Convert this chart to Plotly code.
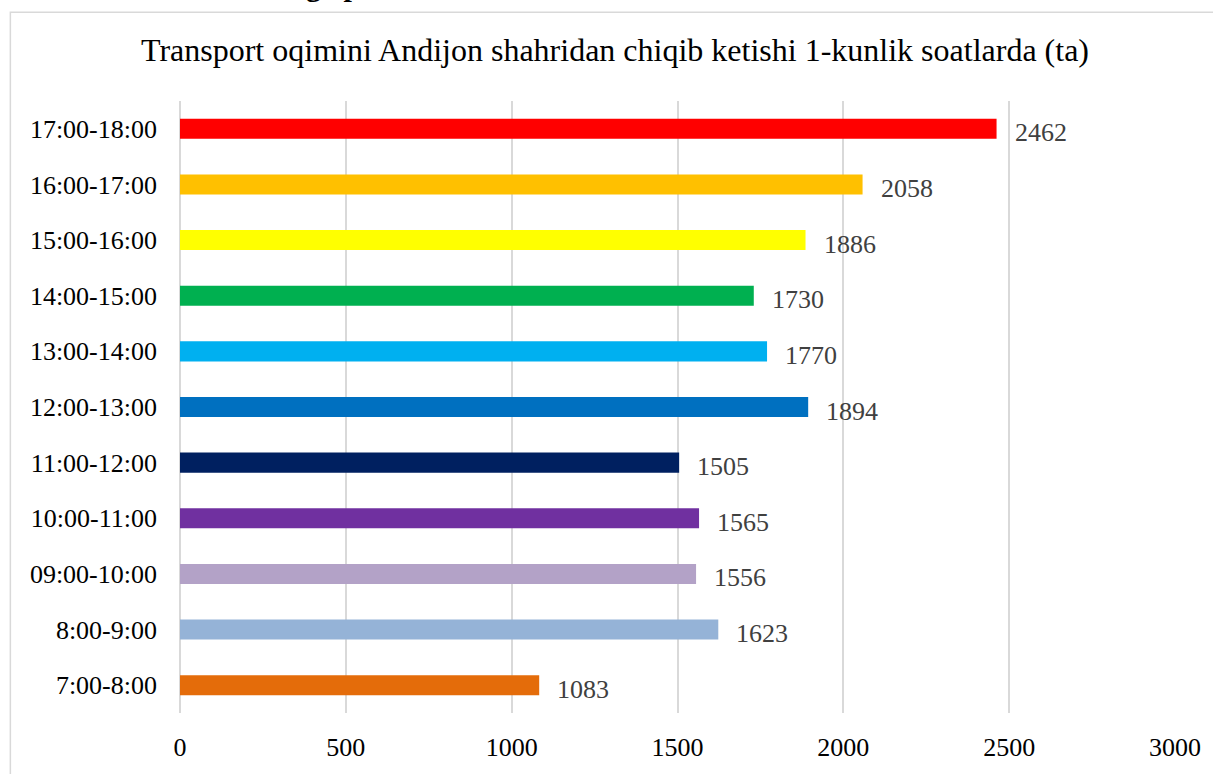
import plotly.graph_objects as go

categories = ["7:00-8:00", "8:00-9:00", "09:00-10:00", "10:00-11:00", "11:00-12:00",
              "12:00-13:00", "13:00-14:00", "14:00-15:00", "15:00-16:00", "16:00-17:00",
              "17:00-18:00"]
values = [1083, 1623, 1556, 1565, 1505, 1894, 1770, 1730, 1886, 2058, 2462]
colors = ["#E46C0A", "#95B3D7", "#B3A2C7", "#7030A0", "#002060", "#0070C0",
          "#00B0F0", "#00B050", "#FFFF00", "#FFC000", "#FF0000"]
x_ticks = [0, 500, 1000, 1500, 2000, 2500, 3000]
title_text = "Transport oqimini Andijon shahridan chiqib ketishi 1-kunlik soatlarda (ta)"

FONT = "Liberation Serif, Times New Roman, serif"

fig = go.Figure()
fig.add_trace(go.Bar(
    y=categories, x=values, orientation="h",
    marker=dict(color=colors, line=dict(width=0)),
    hoverinfo="x+y",
))

for c, v in zip(categories, values):
    fig.add_annotation(x=v, y=c, xref="x", yref="y", text=str(v), showarrow=False,
                       xanchor="left", yanchor="middle", xshift=16, yshift=-4,
                       font=dict(family=FONT, size=26, color="#404040"))

# clipped text fragment above the chart frame
fig.add_annotation(x=(305 - 180) / 1000, y=1 + (101 - 4) / 614, xref="paper", yref="paper",
                   text="<b>g&nbsp;&nbsp;&nbsp;p</b>", showarrow=False, xanchor="left", yanchor="bottom",
                   font=dict(family=FONT, size=30, color="#000000"))

# chart frame
fig.add_shape(type="rect", xref="paper", yref="paper",
              x0=(9.5 - 180) / 1000, x1=1.2, y0=-0.3, y1=1 + (101 - 11.5) / 617,
              line=dict(color="#D9D9D9", width=1.5), fillcolor="rgba(0,0,0,0)", layer="below")

fig.update_layout(
    width=1213, height=774,
    margin=dict(l=180, r=27, t=101, b=56),
    paper_bgcolor="white", plot_bgcolor="white",
    showlegend=False,
    bargap=0.64,
    title=dict(text=title_text, x=0.507, xanchor="center", y=1 - 50 / 774, yanchor="middle",
               font=dict(family=FONT, size=32, color="#000000")),
    xaxis=dict(range=[0, 3000], tickvals=x_ticks, showgrid=True, gridcolor="#D9D9D9", gridwidth=1.5,
               zeroline=True, zerolinecolor="#D9D9D9", zerolinewidth=1.5, showline=False,
               ticks="", ticklabelstandoff=16,
               tickfont=dict(family=FONT, size=26, color="#000000")),
    yaxis=dict(categoryorder="array", categoryarray=categories, showgrid=False, zeroline=False,
               showline=False, ticks="", ticklabelstandoff=22,
               tickfont=dict(family=FONT, size=26, color="#000000")),
    font=dict(family=FONT),
)

fig.write_html("out.html", config={"displayModeBar": False},
               post_script="document.body.style.margin='0';document.body.style.overflow='hidden';")
